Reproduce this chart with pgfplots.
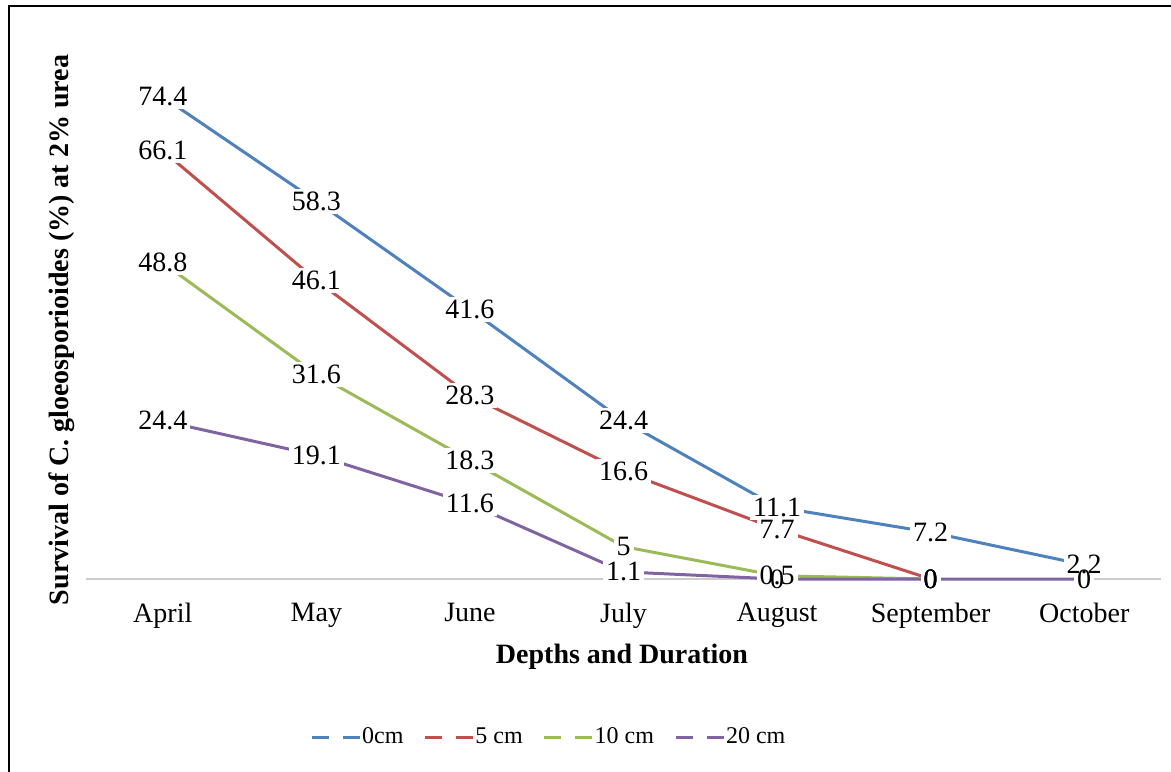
\documentclass[border=0pt]{standalone}
\usepackage{fontspec}
\setmainfont{Liberation Serif}
\usepackage{pgfplots}
\pgfplotsset{compat=1.18}
\definecolor{cA}{HTML}{4F81BD}
\definecolor{cB}{HTML}{C0504D}
\definecolor{cC}{HTML}{9BBB59}
\definecolor{cD}{HTML}{8064A2}
\pgfplotstableread{
x y
0 74.4
1 58.3
2 41.6
3 24.4
4 11.1
5 7.2
6 2.2
}\tA
\pgfplotstableread{
x y
0 66.1
1 46.1
2 28.3
3 16.6
4 7.7
5 0
}\tB
\pgfplotstableread{
x y
0 48.8
1 31.6
2 18.3
3 5
4 0.5
5 0
}\tC
\pgfplotstableread{
x y
0 24.4
1 19.1
2 11.6
3 1.1
4 0
5 0
6 0
}\tD
\begin{document}
\begin{tikzpicture}[font=\fontsize{14}{16.8}\selectfont]
\begin{axis}[
  at={(43pt,96pt)}, anchor=south west,
  scale only axis, width=537.5pt, height=259.2pt,
  xmin=-0.5, xmax=6.5, ymin=0, ymax=80,
  hide y axis,
  axis x line*=bottom,
  x axis line style={draw=gray!40, line width=0.6pt, -},
  xtick={0,...,6},
  xticklabels={April,May,June,July,August,September,October},
  major tick length=0pt,
  xticklabel style={yshift=-8.5pt},
  clip=false,
  /pgf/number format/assume math mode=true,
  legend columns=4,
  legend style={at={(0.430,-0.305)}, anchor=center, draw=none, fill=none,
    font=\fontsize{12}{14}\selectfont,
    nodes={inner sep=0.5pt},
    /tikz/every even column/.append style={column sep=9.5pt},
    /tikz/every odd column/.append style={column sep=0pt}},
  legend image code/.code={\draw[#1, dash pattern=on 8.5pt off 7pt] (0pt,0pt) -- (24pt,0pt);},
  whitelab/.style={draw=none, forget plot, nodes near coords,
    every node near coord/.append style={anchor=center, fill=white, text=white, inner sep=1.5pt}},
  blacklab/.style={draw=none, forget plot, nodes near coords,
    every node near coord/.append style={anchor=center, text=black, inner sep=1.5pt}},
]
\addplot[cA, line width=1.5pt] table {\tA};
\addlegendentry{0cm}
\addplot[cB, line width=1.5pt] table {\tB};
\addlegendentry{5 cm}
\addplot[cC, line width=1.5pt] table {\tC};
\addlegendentry{10 cm}
\addplot[cD, line width=1.5pt] table {\tD};
\addlegendentry{20 cm}
\addplot[whitelab] table {\tA};
\addplot[whitelab] table {\tB};
\addplot[whitelab] table {\tC};
\addplot[whitelab] table {\tD};
\addplot[blacklab] table {\tA};
\addplot[blacklab] table {\tB};
\addplot[blacklab] table {\tC};
\addplot[blacklab] table {\tD};
\end{axis}
\node[rotate=90, font=\fontsize{14}{16.8}\selectfont\bfseries] at (31pt,220.5pt) {Survival of C. gloeosporioides (\%) at 2\% urea};
\node[font=\fontsize{14}{16.8}\selectfont\bfseries] at (311pt,57pt) {Depths and Duration};
\draw[line width=1pt] (4.5pt,-10pt) rectangle (600pt,382.5pt);
\pgfresetboundingbox
\path[use as bounding box] (0,0) rectangle (585.5pt,385.5pt);
\end{tikzpicture}
\end{document}
